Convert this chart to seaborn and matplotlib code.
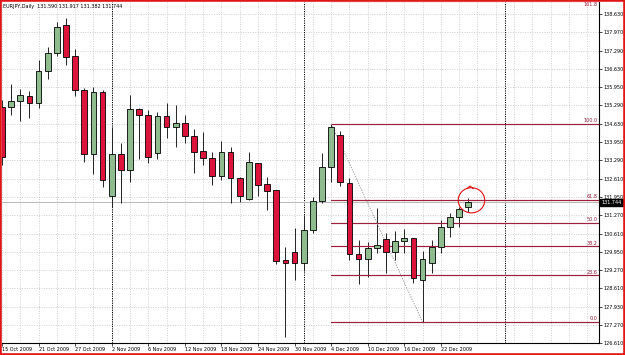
import numpy as np
import pandas as pd
import matplotlib
matplotlib.use("Agg")
import matplotlib.pyplot as plt
import seaborn as sns
from matplotlib.patches import Rectangle, Ellipse

# ---------------- data ----------------
title_text = "EURJPY,Daily  131.590 131.917 131.382 131.744"

dates = ["15 Oct", "16 Oct", "19 Oct", "20 Oct", "21 Oct", "22 Oct", "23 Oct", "26 Oct",
         "27 Oct", "28 Oct", "29 Oct", "30 Oct", "2 Nov", "3 Nov", "4 Nov", "5 Nov",
         "6 Nov", "9 Nov", "10 Nov", "11 Nov", "12 Nov", "13 Nov", "16 Nov", "17 Nov",
         "18 Nov", "19 Nov", "20 Nov", "23 Nov", "24 Nov", "25 Nov", "26 Nov", "27 Nov",
         "30 Nov", "1 Dec", "2 Dec", "3 Dec", "4 Dec", "7 Dec", "8 Dec", "9 Dec",
         "10 Dec", "11 Dec", "14 Dec", "15 Dec", "16 Dec", "17 Dec", "18 Dec", "21 Dec",
         "22 Dec", "23 Dec", "24 Dec", "25 Dec"]

opens = [135.233, 135.233, 135.453, 135.635, 135.380, 136.549, 137.207, 138.230,
         137.097, 135.855, 133.516, 135.782, 131.981, 133.516, 132.931, 135.160,
         134.941, 133.553, 134.905, 134.503, 134.649, 134.174, 133.626, 133.370,
         132.712, 133.589, 132.639, 131.872, 133.187, 132.420, 132.201, 129.643,
         129.935, 129.533, 130.739, 131.799, 133.041, 134.210, 132.456, 129.862,
         129.679, 130.081, 130.410, 129.935, 130.337, 130.447, 128.912, 129.533,
         130.118, 130.849, 131.214, 131.590]
highs = [135.489, 136.074, 135.891, 135.818, 136.951, 137.426, 138.339, 138.486,
         137.353, 135.928, 135.964, 135.855, 134.503, 133.918, 135.672, 135.190,
         135.124, 135.051, 135.380, 135.307, 134.941, 134.430, 134.320, 133.589,
         133.991, 133.772, 132.676, 133.589, 133.200, 132.676, 132.215, 130.118,
         130.812, 131.287, 131.945, 133.553, 134.620, 134.356, 132.639, 130.374,
         130.301, 131.543, 130.629, 130.702, 130.776, 130.460, 129.972, 130.374,
         131.104, 131.360, 131.579, 131.917]
lows = [133.114, 134.941, 134.722, 134.832, 135.197, 136.257, 137.097, 136.768,
        135.635, 133.224, 132.785, 132.310, 131.579, 131.726, 132.493, 133.333,
        133.187, 133.333, 134.101, 133.772, 133.918, 132.822, 133.114, 132.383,
        132.566, 131.726, 131.762, 131.835, 131.981, 131.470, 129.497, 126.829,
        128.912, 129.241, 130.629, 131.726, 132.493, 132.347, 129.643, 128.766,
        129.022, 129.899, 129.168, 129.643, 129.899, 128.802, 127.377, 129.168,
        129.899, 130.483, 130.849, 131.382]
closes = [133.406, 135.453, 135.672, 135.380, 136.549, 137.207, 138.157, 137.060,
          135.855, 133.516, 135.782, 132.566, 133.516, 132.931, 135.160, 134.941,
          133.406, 134.905, 134.503, 134.649, 134.174, 133.589, 133.370, 132.712,
          133.589, 132.639, 131.981, 133.224, 132.383, 132.164, 129.606, 129.533,
          129.533, 130.739, 131.799, 133.041, 134.503, 132.493, 129.862, 129.679,
          130.081, 130.191, 129.935, 130.337, 130.447, 128.985, 129.679, 130.118,
          130.849, 131.214, 131.506, 131.744]

x_tick_idx = [0, 4, 8, 12, 16, 20, 24, 28, 32, 36, 40, 44, 48]
x_tick_labels = ["15 Oct 2009", "21 Oct 2009", "27 Oct 2009", "2 Nov 2009", "6 Nov 2009",
                 "12 Nov 2009", "18 Nov 2009", "24 Nov 2009", "30 Nov 2009", "4 Dec 2009",
                 "10 Dec 2009", "16 Dec 2009", "22 Dec 2009"]
y_tick_values = [138.630, 137.970, 137.290, 136.630, 135.950, 135.290, 134.630,
                 133.950, 133.290, 132.610, 131.950, 131.270, 130.610, 129.950,
                 129.270, 128.610, 127.930, 127.270, 126.610]
y_tick_labels = ["%.3f" % v for v in y_tick_values]

fib_anchor_idx = [36, 46]          # swing high bar, swing low bar
fib_levels = [0.0, 23.6, 38.2, 50.0, 61.8, 100.0, 161.8]
separator_idx = [12, 33, 55]       # month separators
bid_price = 131.744

# ---------------- style ----------------
sns.set_theme(style="white")
plt.rcParams["font.family"] = ["DejaVu Sans"]
FS = 3.5
GREEN = "#8fbc8f"
RED = "#dc143c"
FIB = "#9e1e3e"

df = pd.DataFrame({"date": dates, "open": opens, "high": highs,
                   "low": lows, "close": closes})
df["idx"] = np.arange(len(df))
df["up"] = df["close"] >= df["open"]

fig = plt.figure(figsize=(6.25, 3.55), dpi=100)
W, H = 625.0, 355.0
ax = fig.add_axes([2 / W, 1 - 343 / H, 597 / W, 341.5 / H])
ax.set_facecolor("white")

x_left, x_right = 0.13, 65.3
ax.set_xlim(x_left, x_right)
ax.set_ylim(126.61, 139.088)

# grid
ax.set_yticks(y_tick_values)
ax.set_yticklabels(y_tick_labels)
ax.set_xticks(x_tick_idx)
ax.set_xticklabels(x_tick_labels)
ax.set_xticks(np.arange(0, 66, 2), minor=True)
ax.grid(False)
for v in y_tick_values:
    ax.axhline(v, color="#c0c0c0", lw=0.5, ls=(0, (1.5, 2.0)), zorder=0)
for v in np.arange(0, 66, 2):
    ax.axvline(v, color="#c0c0c0", lw=0.5, ls=(0, (1.5, 2.0)), zorder=0)

# month separators
for s in separator_idx:
    ax.axvline(s, color="black", lw=0.7, ls=(0, (1.2, 1.2)), zorder=1)

# bid line
ax.axhline(bid_price, color="#b8b8b8", lw=0.7, zorder=1)

# candles
ax.vlines(df["idx"], df["low"], df["high"], color="#222222", lw=0.7, zorder=2)
bottoms = np.minimum(df["open"], df["close"])
heights = np.maximum(np.abs(df["close"] - df["open"]), 0.03)
colors = [GREEN if u else RED for u in df["up"]]
ax.bar(df["idx"], heights, bottom=bottoms, width=0.62, color=colors,
       edgecolor="black", linewidth=0.6, zorder=3)

# fibonacci retracement
hi_i, lo_i = fib_anchor_idx
f_hi, f_lo = highs[hi_i], lows[lo_i]
for lvl in fib_levels:
    price = f_lo + (f_hi - f_lo) * lvl / 100.0
    ax.plot([hi_i, x_right], [price, price], color=FIB, lw=0.85, zorder=2)
    top_level = lvl > 150
    ax.annotate("%.1f" % lvl, xy=(0.997, price), xycoords=ax.get_yaxis_transform(),
                xytext=(0, -0.6 if top_level else 0.4), textcoords="offset points",
                ha="right", va="top" if top_level else "bottom",
                fontsize=FS, color=FIB)
trend = pd.DataFrame({"x": [hi_i, lo_i], "y": [f_hi, f_lo]})
sns.lineplot(data=trend, x="x", y="y", ax=ax, color="#909090", lw=0.6,
             linestyle=(0, (1.5, 1.5)), zorder=2)

# hand-drawn circle around the last candle
last = len(df) - 1
ax.add_patch(Ellipse((last + 0.35, closes[-1] + 0.08), 2.9, 0.92, angle=0,
                     fill=False, edgecolor="#e01010", lw=0.8, zorder=5))
ax.plot([last - 0.1, last + 0.2, last + 0.55], [closes[-1] + 0.52, closes[-1] + 0.6, closes[-1] + 0.5],
        color="#e01010", lw=0.8, zorder=5)

# axes cosmetics
ax.set_xlabel("")
ax.set_ylabel("")
ax.yaxis.tick_right()
for side in ["left", "top"]:
    ax.spines[side].set_visible(False)
for side in ["right", "bottom"]:
    ax.spines[side].set_color("black")
    ax.spines[side].set_linewidth(0.8)
ax.tick_params(axis="y", which="major", right=True, left=False, length=2, width=0.5,
               pad=1, labelsize=FS, colors="black")
ax.tick_params(axis="x", which="major", bottom=True, length=2.2, width=0.5,
               pad=0.8, labelsize=FS, colors="black")
ax.tick_params(axis="x", which="minor", length=0)
for lab in ax.get_xticklabels():
    lab.set_ha("left")

# current price box
ax.text(1.004, bid_price, "%.3f" % bid_price, transform=ax.get_yaxis_transform(),
        ha="left", va="center", fontsize=FS, color="white", zorder=10, clip_on=False,
        bbox=dict(boxstyle="square,pad=0.25", fc="black", ec="black"))

# title
fig.text(3 / W, 1 - 6.5 / H, title_text, ha="left", va="center", fontsize=FS, color="black")

# red frame
fig.add_artist(Rectangle((0, 0), 1, 1, transform=fig.transFigure, fill=False,
                         edgecolor="#e01515", lw=2.6))

fig.savefig("out.png", dpi=100)
